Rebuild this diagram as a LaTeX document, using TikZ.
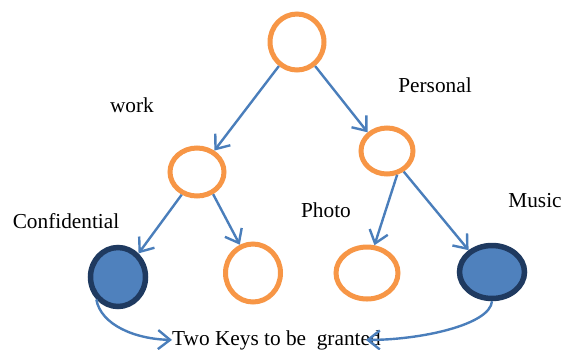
\documentclass[tikz,border=0pt]{standalone}
\usepackage{fontspec}
\setmainfont{Liberation Serif}
\usetikzlibrary{shapes.geometric,arrows.meta}

\definecolor{ringorange}{HTML}{F79646}
\definecolor{keyfill}{HTML}{4F81BD}
\definecolor{keyedge}{HTML}{1F3A60}
\definecolor{linkblue}{HTML}{4A7EBB}

\tikzset{
  openring/.style={ellipse, draw=ringorange, line width=5pt, fill=white, inner sep=0pt},
  keyring/.style={ellipse, draw=keyedge, line width=5.5pt, fill=keyfill, inner sep=0pt},
  link/.style={draw=linkblue, line width=2.4pt,
    -{Straight Barb[length=12pt,width=19pt,line width=2.4pt]}},
  tag/.style={anchor=base, inner sep=0pt, font=\fontsize{21.3}{25}\selectfont}
}

\begin{document}
\begin{tikzpicture}[x=1pt, y=-1pt]
  \useasboundingbox (0,0) rectangle (569,349);

  % tree of folders
  \node[openring, minimum width=54pt, minimum height=56pt] (root) at (297,42) {};
  \node[openring, minimum width=54pt, minimum height=48pt] (work) at (197,172) {};
  \node[openring, minimum width=52pt, minimum height=46pt] (pers) at (387,151) {};
  \node[keyring, minimum width=55pt, minimum height=59pt] (conf) at (118,277) {};
  \node[openring, minimum width=55pt, minimum height=58pt] (other) at (253,273) {};
  \node[openring, minimum width=62pt, minimum height=52pt] (photo) at (367,273) {};
  \node[keyring, minimum width=65pt, minimum height=53pt] (music) at (492,272) {};

  % labels
  \node[tag] (lwork) at (132,112) {work};
  \node[tag] (lpers) at (435,92) {Personal};
  \node[tag] (lconf) at (66,228) {Confidential};
  \node[tag] (lphoto) at (326,217) {Photo};
  \node[tag] (lmusic) at (535,207) {Music};
  \node[tag, anchor=base west] (keys) at (172,345) {Two Keys to be~ granted};

  % branches
  \draw[link] (root.233) -- (work.51);
  \draw[link] (root.307) -- (pers.136);
  \draw[link] (work.236) -- (conf.49);
  \draw[link] (work.306) -- (other.115);
  \draw[link] (pers.293) -- (photo.75);
  \draw[link] (pers.309) -- (music.137);

  % keys
  \draw[link] (conf.226) .. controls (101,325) and (135,339) .. (keys.west);
  \draw[link] (music.270) .. controls (490,325) and (420,340) .. ([xshift=-15pt]keys.east);
\end{tikzpicture}
\end{document}
